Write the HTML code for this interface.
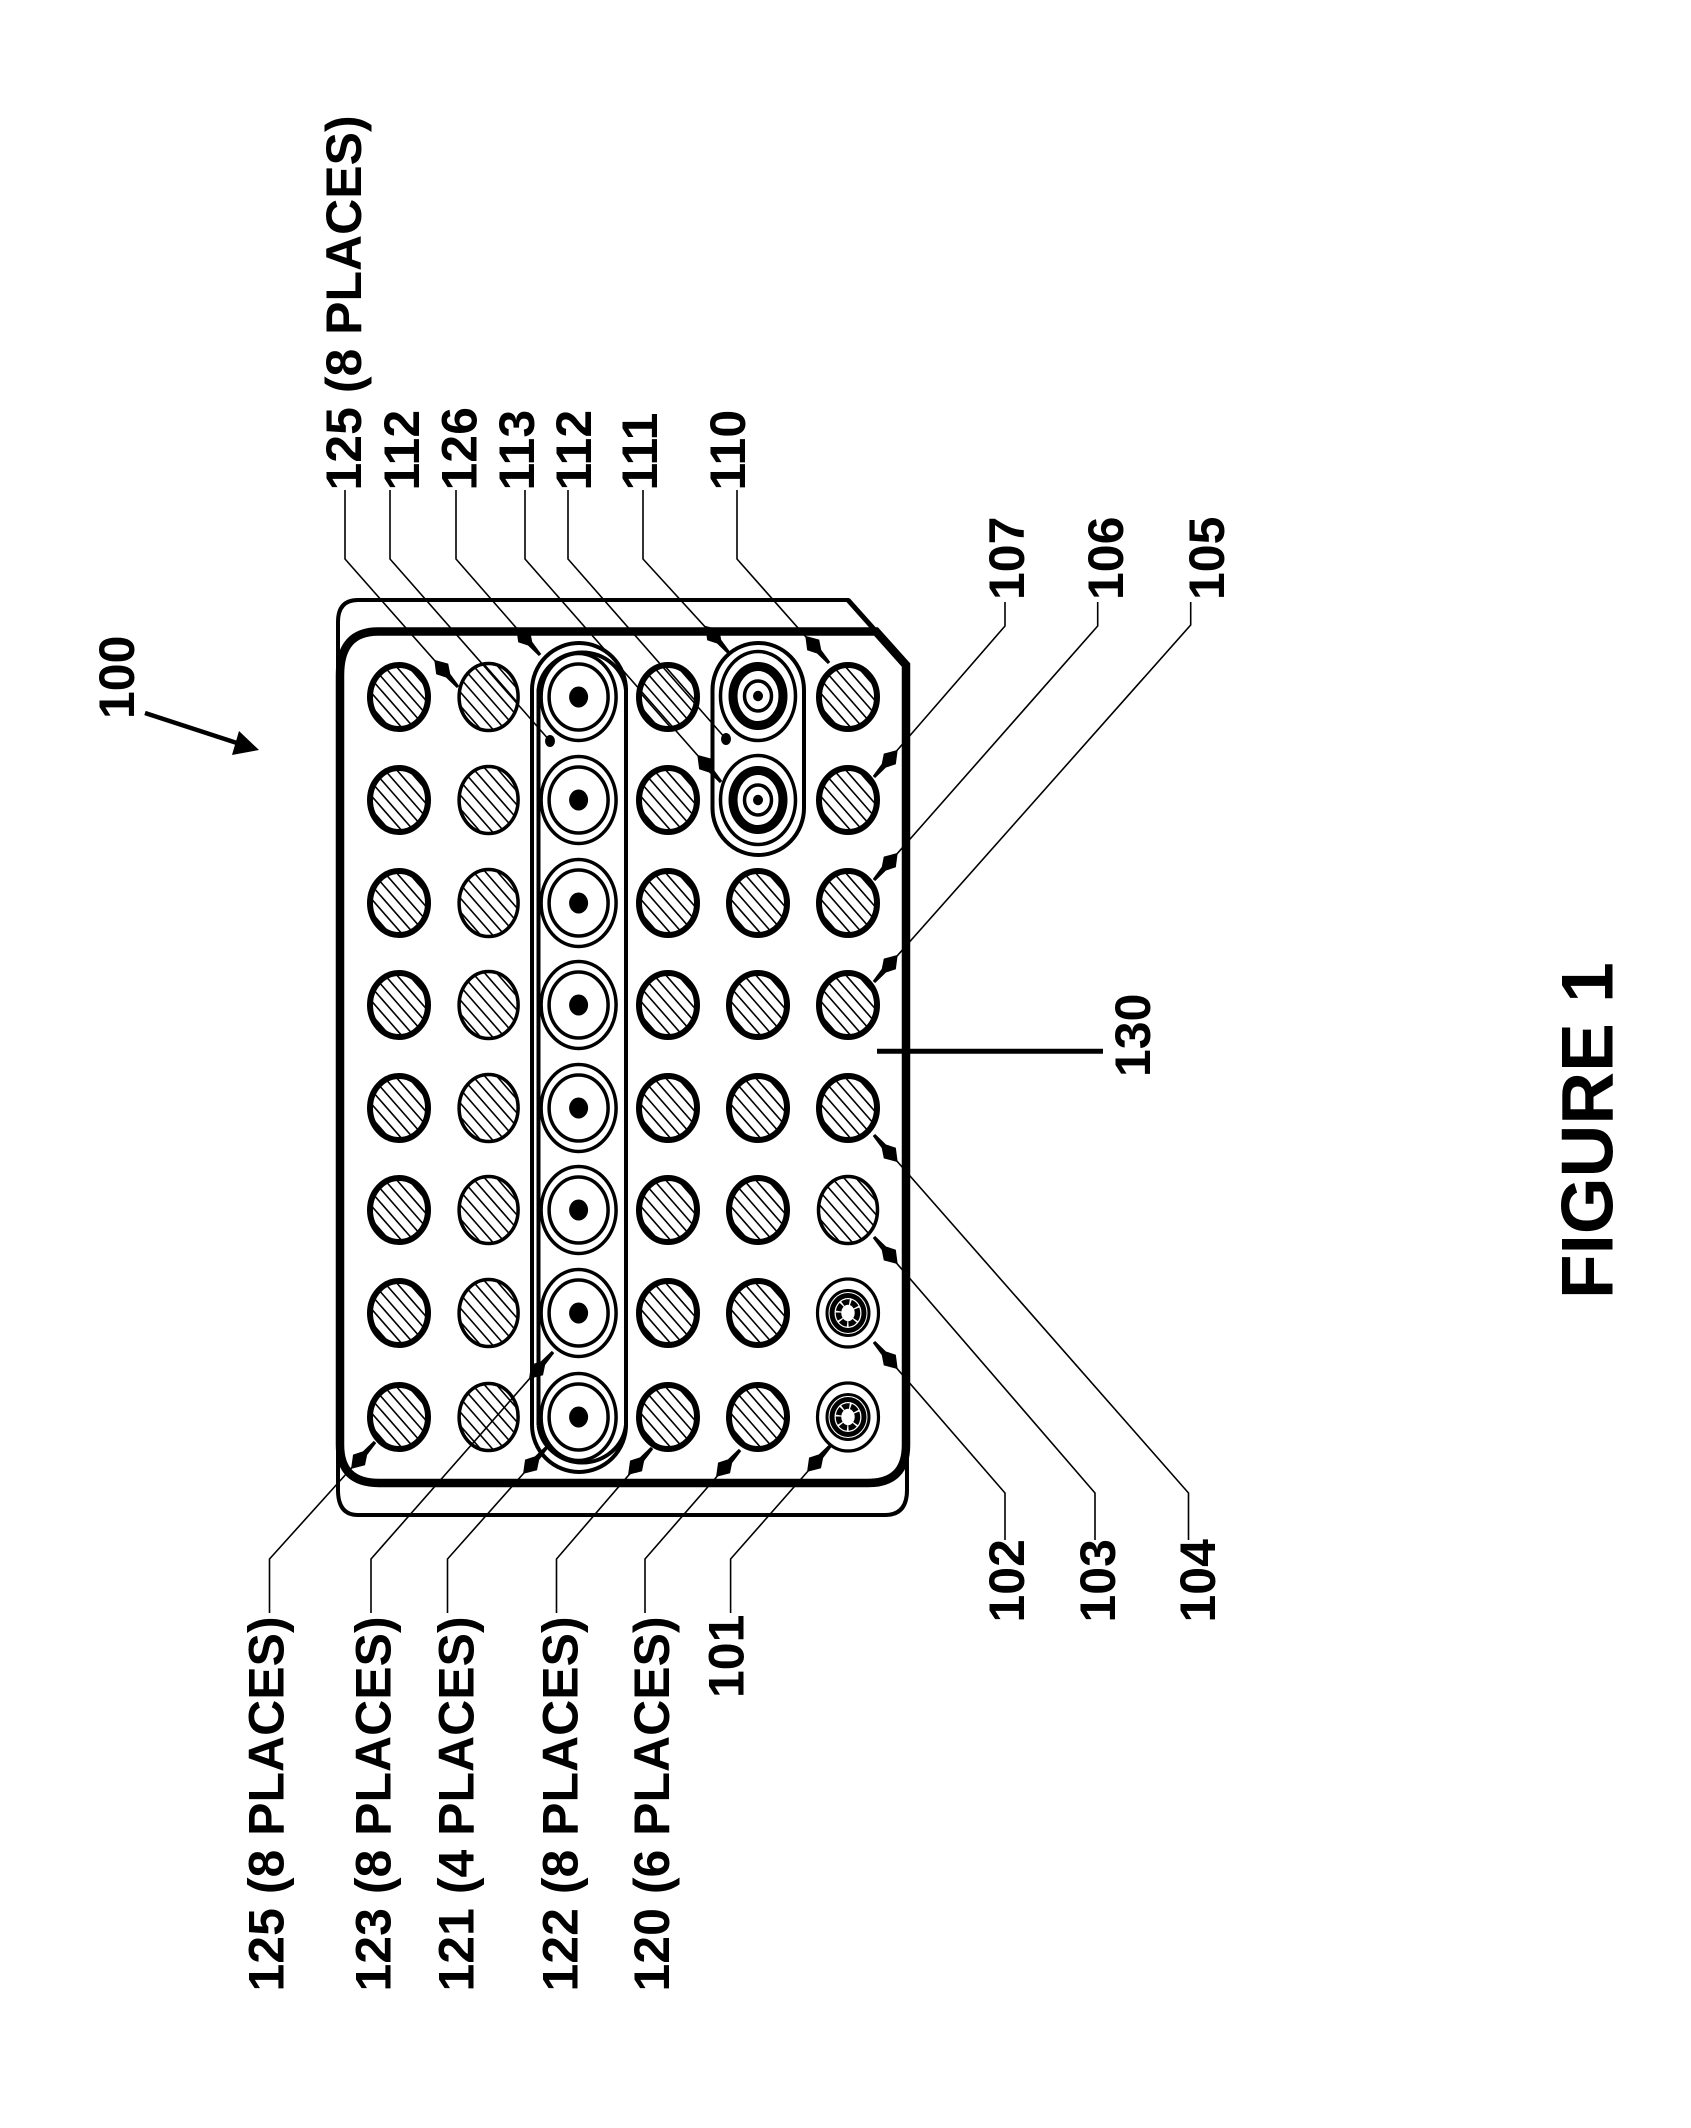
<!DOCTYPE html>
<html><head><meta charset="utf-8"><style>html,body{margin:0;padding:0;background:#fff}svg{display:block}text{font-family:"Liberation Sans",sans-serif;font-weight:bold;fill:#000;font-size:50px}</style></head><body>
<svg xmlns="http://www.w3.org/2000/svg" width="1691" height="2128" viewBox="0 0 1691 2128">
<defs>
<clipPath id="c"><ellipse rx="30" ry="33"/></clipPath>
<g id="hh" clip-path="url(#c)" stroke="#000" stroke-width="1.6" fill="none">
<path d="M-95,-40L-25,40M-83,-40L-13,40M-71,-40L-1,40M-59,-40L11,40M-47,-40L23,40M-35,-40L35,40M-23,-40L47,40M-11,-40L59,40M1,-40L71,40M13,-40L83,40M25,-40L95,40"/>
</g>
<g id="h1"><use href="#hh"/><ellipse rx="29" ry="32" fill="none" stroke="#000" stroke-width="6"/></g>
<g id="h2"><use href="#hh"/><ellipse rx="29.5" ry="33.5" fill="none" stroke="#000" stroke-width="3.5"/></g>
<g id="co" fill="none" stroke="#000" stroke-width="3.5"><ellipse rx="37.5" ry="43.5"/><ellipse rx="29.5" ry="33"/><ellipse rx="9.5" ry="10.5" fill="#000" stroke="none"/></g>
<g id="tg" fill="none" stroke="#000"><ellipse rx="37.5" ry="44.5" stroke-width="3.5"/><ellipse rx="25" ry="29.5" stroke-width="9"/><ellipse rx="13.5" ry="15" stroke-width="3.5"/><ellipse rx="5" ry="5.2" fill="#000" stroke="none"/></g>
<g id="sm" fill="none" stroke="#000"><ellipse rx="30.5" ry="34" stroke-width="3.2"/><ellipse rx="21" ry="22.5" stroke-width="3"/><ellipse rx="16" ry="17.5" stroke-width="5"/><ellipse rx="9.5" ry="11" stroke-width="5.5" stroke-dasharray="7 1.5"/><ellipse rx="4.5" ry="5" fill="#fff" stroke="none"/></g>
<path id="a" d="M0,-1.6 L-15,-2.8 L-24,-8 L-36,0 L-24,8 L-15,2.8 L0,1.6 Z" fill="#000"/>
</defs>

<!-- body -->
<g fill="none" stroke="#000">
<path d="M338,1490 L338,622 Q338,600 358,600 L848,600 L906,665 L907,1490 Q907,1515 885,1515 L358,1515 Q338,1515 338,1490 Z" stroke-width="4"/>
<path d="M378,631.5 L876,631.5 L906,665 L906,1445 Q906,1483 868,1483 L379,1483 Q340,1483 340,1445 L340,675 Q340,631.5 378,631.5 Z" stroke-width="8.5"/>
<path d="M848,600 L906,665" stroke-width="5"/>
<path d="M532,690 A47,47 0 0 1 626,690 L626,1425 A47,47 0 0 1 532,1425 Z" stroke-width="4"/>
<path d="M538.5,1425 L538.5,690 A44,42 0 0 1 626,690 M538.5,1425 A44,42 0 0 0 626,1425" stroke-width="4"/>
<path d="M712.5,690 A45.75,47 0 0 1 804,690 L804,808 A45.75,47 0 0 1 712.5,808 Z" stroke-width="4"/>
</g>

<!-- col 1 -->
<use href="#h1" x="399" y="697"/><use href="#h1" x="399" y="800"/><use href="#h1" x="399" y="903"/><use href="#h1" x="399" y="1005"/><use href="#h1" x="399" y="1108"/><use href="#h1" x="399" y="1210"/><use href="#h1" x="399" y="1313"/><use href="#h1" x="399" y="1417"/>
<!-- col 2 -->
<use href="#h2" x="488.6" y="697"/><use href="#h2" x="488.6" y="800"/><use href="#h2" x="488.6" y="903"/><use href="#h2" x="488.6" y="1005"/><use href="#h2" x="488.6" y="1108"/><use href="#h2" x="488.6" y="1210"/><use href="#h2" x="488.6" y="1313"/><use href="#h2" x="488.6" y="1417"/>
<!-- col 3 -->
<use href="#co" x="578.6" y="697"/><use href="#co" x="578.6" y="800"/><use href="#co" x="578.6" y="903"/><use href="#co" x="578.6" y="1005"/><use href="#co" x="578.6" y="1108"/><use href="#co" x="578.6" y="1210"/><use href="#co" x="578.6" y="1313"/><use href="#co" x="578.6" y="1417"/>
<!-- col 4 -->
<use href="#h1" x="668" y="697"/><use href="#h1" x="668" y="800"/><use href="#h1" x="668" y="903"/><use href="#h1" x="668" y="1005"/><use href="#h1" x="668" y="1108"/><use href="#h1" x="668" y="1210"/><use href="#h1" x="668" y="1313"/><use href="#h1" x="668" y="1417"/>
<!-- col 5 -->
<use href="#tg" x="758" y="696"/><use href="#tg" x="758" y="800"/>
<use href="#h1" x="758" y="903"/><use href="#h1" x="758" y="1005"/><use href="#h1" x="758" y="1108"/><use href="#h1" x="758" y="1210"/><use href="#h1" x="758" y="1313"/><use href="#h1" x="758" y="1417"/>
<!-- col 6 -->
<use href="#h1" x="848" y="697"/><use href="#h1" x="848" y="800"/><use href="#h1" x="848" y="903"/><use href="#h1" x="848" y="1005"/><use href="#h1" x="848" y="1108"/><use href="#h2" x="848" y="1210"/>
<use href="#sm" x="848" y="1313"/><use href="#sm" x="848" y="1417"/>

<!-- leader lines -->
<g fill="none" stroke="#000" stroke-width="1.6">
<path d="M345,490 V559 L458,687"/>
<path d="M390,490 V559 L550,741"/>
<path d="M456,490 V559 L540,655"/>
<path d="M525,490 V559 L721,782"/>
<path d="M568,490 V559 L726,739"/>
<path d="M643,490 V559 L729,653"/>
<path d="M737,490 V559 L829,663"/>

<path d="M1005,602 V626 L874,777"/>
<path d="M1097.7,602 V626 L874,880"/>
<path d="M1190.7,602 V625 L874,982"/>

<path d="M269.5,1613 V1559 L375,1442"/>
<path d="M371,1613 V1559 L553,1352"/>
<path d="M447.5,1613 V1559 L547,1447"/>
<path d="M556.5,1613 V1559 L652,1448"/>
<path d="M645,1613 V1559 L740,1450"/>
<path d="M730.6,1613 V1559 L831,1445"/>

<path d="M1005,1540 V1493 L874,1342"/>
<path d="M1095,1540 V1493 L874,1237"/>
<path d="M1188.5,1540 V1493 L874,1135"/>
</g>
<path d="M877,1051.3 H1103" stroke="#000" stroke-width="5" fill="none"/>
<path d="M145,713 L240,744" stroke="#000" stroke-width="4.5" fill="none"/>
<path d="M259,750 L239,731 L232,755 Z" fill="#000"/>

<!-- arrowheads -->
<use href="#a" transform="translate(458,687) rotate(48.8)"/>
<use href="#a" transform="translate(540,655) rotate(48.8)"/>
<use href="#a" transform="translate(721,782) rotate(48.8)"/>
<use href="#a" transform="translate(729,653) rotate(48.8)"/>
<use href="#a" transform="translate(829,663) rotate(48.8)"/>
<use href="#a" transform="translate(874,777) rotate(131.2)"/>
<use href="#a" transform="translate(874,880) rotate(131.2)"/>
<use href="#a" transform="translate(874,982) rotate(131.2)"/>
<use href="#a" transform="translate(375,1442) rotate(-48.3)"/>
<use href="#a" transform="translate(553,1352) rotate(-48.3)"/>
<use href="#a" transform="translate(547,1447) rotate(-48.3)"/>
<use href="#a" transform="translate(652,1448) rotate(-48.3)"/>
<use href="#a" transform="translate(740,1450) rotate(-48.3)"/>
<use href="#a" transform="translate(831,1445) rotate(-48.3)"/>
<use href="#a" transform="translate(874,1135) rotate(-131.2)"/>
<use href="#a" transform="translate(874,1237) rotate(-131.2)"/>
<use href="#a" transform="translate(874,1342) rotate(-131.2)"/>
<ellipse cx="550" cy="741" rx="5" ry="6" fill="#000"/>
<ellipse cx="726" cy="739" rx="5" ry="6" fill="#000"/>

<!-- labels -->
<text transform="translate(361,490.5) rotate(-90)">125 (8 PLACES)</text>
<text transform="translate(419,490.5) rotate(-90)">112</text>
<text transform="translate(476.4,490.5) rotate(-90)">126</text>
<text transform="translate(533.8,490.5) rotate(-90)">113</text>
<text transform="translate(591,490.5) rotate(-90)">112</text>
<text transform="translate(657,490.5) rotate(-90)">111</text>
<text transform="translate(745,490.5) rotate(-90)">110</text>

<text transform="translate(1024,600) rotate(-90)">107</text>
<text transform="translate(1123,600) rotate(-90)">106</text>
<text transform="translate(1224,600) rotate(-90)">105</text>

<text transform="translate(283.5,1991.5) rotate(-90)">125 (8 PLACES)</text>
<text transform="translate(390.7,1991.5) rotate(-90)">123 (8 PLACES)</text>
<text transform="translate(473.6,1991.5) rotate(-90)">121 (4 PLACES)</text>
<text transform="translate(577.6,1991.5) rotate(-90)">122 (8 PLACES)</text>
<text transform="translate(668.8,1991.5) rotate(-90)">120 (6 PLACES)</text>
<text transform="translate(743.4,1698) rotate(-90)">101</text>
<text transform="translate(1024,1622.5) rotate(-90)">102</text>
<text transform="translate(1115,1622.5) rotate(-90)">103</text>
<text transform="translate(1215,1622.5) rotate(-90)">104</text>

<text transform="translate(1150,1077) rotate(-90)">130</text>
<text transform="translate(134,719) rotate(-90)">100</text>
<text transform="translate(1612.7,1299) rotate(-90)" style="font-size:73px">FIGURE 1</text>
</svg>
</body></html>
